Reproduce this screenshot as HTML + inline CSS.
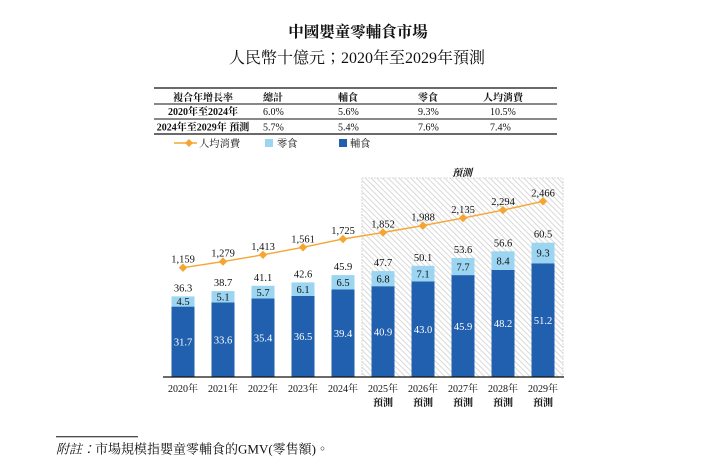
<!DOCTYPE html>
<html><head><meta charset="utf-8"><style>
html,body{margin:0;padding:0;background:#fff;}
svg{display:block;}
text{font-family:"Liberation Serif","Noto Serif CJK TC","Noto Serif CJK SC",serif;fill:#111;}
.b{font-weight:bold;}
text.w{fill:#fff;}
</style></head><body>
<svg width="727" height="466" viewBox="0 0 727 466" xmlns="http://www.w3.org/2000/svg">
<defs>
<pattern id="h" patternUnits="userSpaceOnUse" width="4" height="4" patternTransform="rotate(-45)">
<rect width="4" height="4" fill="#fff"/>
<line x1="0" y1="0" x2="0" y2="4" stroke="#cfcfcf" stroke-width="1.6"/>
</pattern>
</defs>
<text x="358" y="37" font-size="15.5" class="b" text-anchor="middle">中國嬰童零輔食市場</text>
<text x="357" y="63" font-size="16" text-anchor="middle">人民幣十億元；2020年至2029年預測</text>

<line x1="154" y1="88" x2="557" y2="88" stroke="#111" stroke-width="1.3"/>
<line x1="154" y1="104" x2="557" y2="104" stroke="#111" stroke-width="1"/>
<line x1="154" y1="119" x2="557" y2="119" stroke="#111" stroke-width="1"/>
<line x1="154" y1="134" x2="557" y2="134" stroke="#111" stroke-width="1.3"/>
<g font-size="10">
<text x="203" y="101" class="b" text-anchor="middle">複合年增長率</text>
<text x="263" y="101" class="b">總計</text>
<text x="338" y="101" class="b">輔食</text>
<text x="418" y="101" class="b">零食</text>
<text x="483" y="101" class="b">人均消費</text>
<text x="203" y="115" class="b" text-anchor="middle">2020年至2024年</text>
<text x="263" y="115">6.0%</text>
<text x="338" y="115">5.6%</text>
<text x="418" y="115">9.3%</text>
<text x="490" y="115">10.5%</text>
<text x="203" y="130.5" class="b" text-anchor="middle">2024年至2029年 預測</text>
<text x="263" y="130.5">5.7%</text>
<text x="338" y="130.5">5.4%</text>
<text x="418" y="130.5">7.6%</text>
<text x="490" y="130.5">7.4%</text>
</g>
<line x1="174" y1="143" x2="197" y2="143" stroke="#f5a530" stroke-width="1.5"/>
<polygon points="189,139 193,143 189,147 185,143" fill="#f5a530"/>
<text x="199" y="147" font-size="10.3">人均消費</text>
<rect x="265" y="139" width="8" height="8" fill="#9bd5f1"/>
<text x="277" y="147" font-size="10.3">零食</text>
<rect x="339" y="139" width="8" height="8" fill="#2160ae"/>
<text x="350" y="147" font-size="10.3">輔食</text>

<rect x="362" y="178" width="201" height="199" fill="url(#h)" stroke="#d0d0d0" stroke-width="0.8" stroke-dasharray="2,1"/>
<text x="462" y="176" font-size="10" class="b" font-style="italic" text-anchor="middle">預測</text>

<g>
<rect x="171.5" y="306.6" width="23" height="70.4" fill="#2160ae"/><rect x="171.5" y="296.4" width="23" height="10.2" fill="#9bd5f1"/>
<rect x="211.5" y="302.4" width="23" height="74.6" fill="#2160ae"/><rect x="211.5" y="291.1" width="23" height="11.3" fill="#9bd5f1"/>
<rect x="251.5" y="298.4" width="23" height="78.6" fill="#2160ae"/><rect x="251.5" y="285.8" width="23" height="12.6" fill="#9bd5f1"/>
<rect x="291.5" y="296.0" width="23" height="81.0" fill="#2160ae"/><rect x="291.5" y="282.4" width="23" height="13.6" fill="#9bd5f1"/>
<rect x="331.5" y="289.5" width="23" height="87.5" fill="#2160ae"/><rect x="331.5" y="275.1" width="23" height="14.4" fill="#9bd5f1"/>
<rect x="371.5" y="286.2" width="23" height="90.8" fill="#2160ae"/><rect x="371.5" y="271.1" width="23" height="15.1" fill="#9bd5f1"/>
<rect x="411.5" y="281.5" width="23" height="95.5" fill="#2160ae"/><rect x="411.5" y="265.8" width="23" height="15.7" fill="#9bd5f1"/>
<rect x="451.5" y="275.1" width="23" height="101.9" fill="#2160ae"/><rect x="451.5" y="258.0" width="23" height="17.1" fill="#9bd5f1"/>
<rect x="491.5" y="270.0" width="23" height="107.0" fill="#2160ae"/><rect x="491.5" y="251.3" width="23" height="18.7" fill="#9bd5f1"/>
<rect x="531.5" y="263.3" width="23" height="113.7" fill="#2160ae"/><rect x="531.5" y="242.7" width="23" height="20.6" fill="#9bd5f1"/>
</g>

<g font-size="10.5" text-anchor="middle">
<text x="183" y="291.4">36.3</text>
<text x="223" y="286.1">38.7</text>
<text x="263" y="280.8">41.1</text>
<text x="303" y="277.4">42.6</text>
<text x="343" y="270.1">45.9</text>
<text x="383" y="266.1">47.7</text>
<text x="423" y="260.8">50.1</text>
<text x="463" y="253.0">53.6</text>
<text x="503" y="246.3">56.6</text>
<text x="543" y="237.7">60.5</text>

<text x="183" y="305.2">4.5</text>
<text x="223" y="300.5">5.1</text>
<text x="263" y="295.8">5.7</text>
<text x="303" y="293.0">6.1</text>
<text x="343" y="286.0">6.5</text>
<text x="383" y="282.4">6.8</text>
<text x="423" y="277.4">7.1</text>
<text x="463" y="270.3">7.7</text>
<text x="503" y="264.4">8.4</text>
<text x="543" y="256.7">9.3</text>

<text class="w" x="183" y="345.6">31.7</text>
<text class="w" x="223" y="343.4">33.6</text>
<text class="w" x="263" y="341.4">35.4</text>
<text class="w" x="303" y="340.2">36.5</text>
<text class="w" x="343" y="337.0">39.4</text>
<text class="w" x="383" y="335.3">40.9</text>
<text class="w" x="423" y="333.0">43.0</text>
<text class="w" x="463" y="329.8">45.9</text>
<text class="w" x="503" y="327.2">48.2</text>
<text class="w" x="543" y="323.9">51.2</text>
</g>

<polyline points="183,267.7 223,261.6 263,254.8 303,247.3 343,239.0 383,232.5 423,225.6 463,218.1 503,210.1 543,201.3" fill="none" stroke="#f5a530" stroke-width="1.4"/>
<g fill="#f5a530">
<polygon points="183,263.5 187.2,267.7 183,271.9 178.8,267.7"/>
<polygon points="223,257.4 227.2,261.6 223,265.8 218.8,261.6"/>
<polygon points="263,250.6 267.2,254.8 263,259 258.8,254.8"/>
<polygon points="303,243.1 307.2,247.3 303,251.5 298.8,247.3"/>
<polygon points="343,234.8 347.2,239 343,243.2 338.8,239"/>
<polygon points="383,228.3 387.2,232.5 383,236.7 378.8,232.5"/>
<polygon points="423,221.4 427.2,225.6 423,229.8 418.8,225.6"/>
<polygon points="463,213.9 467.2,218.1 463,222.3 458.8,218.1"/>
<polygon points="503,205.9 507.2,210.1 503,214.3 498.8,210.1"/>
<polygon points="543,197.1 547.2,201.3 543,205.5 538.8,201.3"/>
</g>
<g font-size="10.5" text-anchor="middle">
<text x="183" y="262.7">1,159</text>
<text x="223" y="256.6">1,279</text>
<text x="263" y="249.8">1,413</text>
<text x="303" y="242.3">1,561</text>
<text x="343" y="234.0">1,725</text>
<text x="383" y="227.5">1,852</text>
<text x="423" y="220.6">1,988</text>
<text x="463" y="213.1">2,135</text>
<text x="503" y="205.1">2,294</text>
<text x="543" y="196.3">2,466</text>
</g>

<line x1="163" y1="377" x2="564" y2="377" stroke="#111" stroke-width="1.3"/>
<g font-size="10" text-anchor="middle">
<text x="183" y="392">2020年</text>
<text x="223" y="392">2021年</text>
<text x="263" y="392">2022年</text>
<text x="303" y="392">2023年</text>
<text x="343" y="392">2024年</text>
<text x="383" y="392">2025年</text>
<text x="423" y="392">2026年</text>
<text x="463" y="392">2027年</text>
<text x="503" y="392">2028年</text>
<text x="543" y="392">2029年</text>
<text x="383" y="406" class="b">預測</text>
<text x="423" y="406" class="b">預測</text>
<text x="463" y="406" class="b">預測</text>
<text x="503" y="406" class="b">預測</text>
<text x="543" y="406" class="b">預測</text>
</g>

<line x1="56" y1="436.7" x2="138" y2="436.7" stroke="#111" stroke-width="1"/>
<text x="56" y="453.5" font-size="13"><tspan font-style="italic">附註：</tspan>市場規模指嬰童零輔食的GMV(零售額)。</text>
</svg>
</body></html>
